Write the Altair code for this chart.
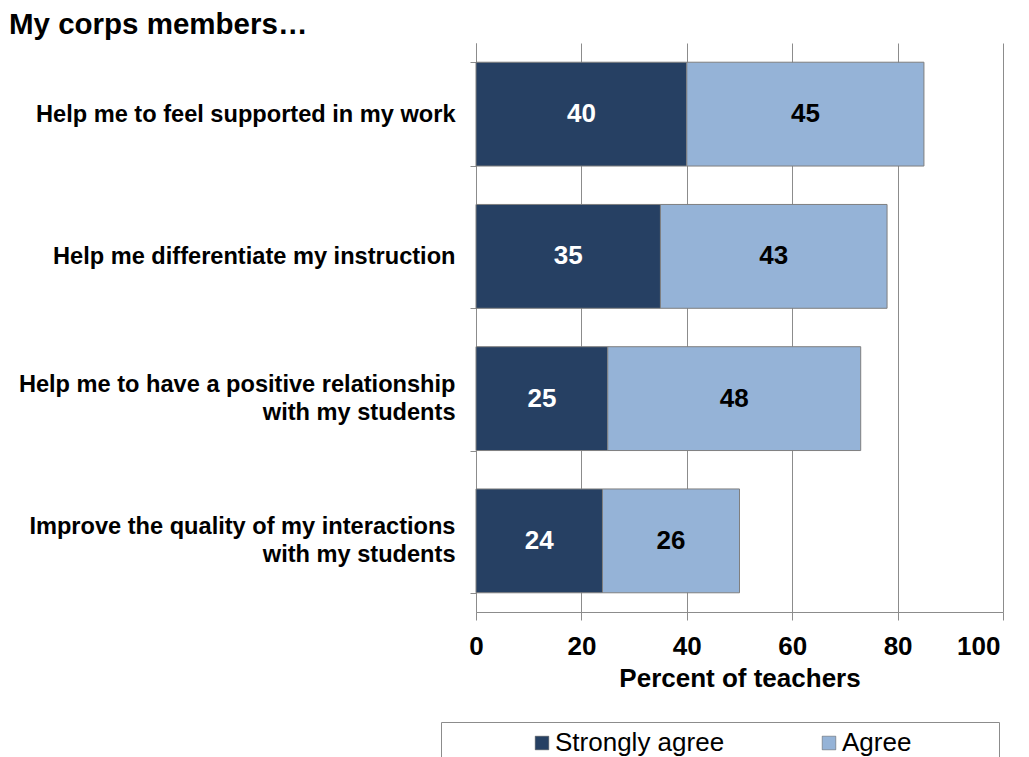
import altair as alt
import pandas as pd

categories = [
    "Help me to feel supported in my work",
    "Help me differentiate my instruction",
    "Help me to have a positive relationship|with my students",
    "Improve the quality of my interactions|with my students",
]
strongly_agree = [40, 35, 25, 24]
agree = [45, 43, 48, 26]
series = ["Strongly agree", "Agree"]
colors = ["#264063", "#95B3D7"]
x_ticks = [0, 20, 40, 60, 80, 100]

rows = []
for c, s, a in zip(categories, strongly_agree, agree):
    rows.append({"cat": c, "series": series[0], "order": 0, "value": s})
    rows.append({"cat": c, "series": series[1], "order": 1, "value": a})
df = pd.DataFrame(rows)

FONT = "Liberation Sans"
GRID = "#8C8C8C"
PAD = "\u00a0" * 11 + "\u200b"

base = alt.Chart(df).transform_stack(
    stack="value", groupby=["cat"], as_=["x0", "x1"],
    sort=[alt.SortField("order", order="ascending")],
).transform_calculate(mid="(datum.x0 + datum.x1) / 2")

y_enc = alt.Y(
    "cat:N", sort=categories,
    scale=alt.Scale(paddingInner=0.27, paddingOuter=0.135),
    axis=alt.Axis(
        title=None, labelExpr="split(datum.label, '|')",
        labelFont=FONT, labelFontSize=23.6, labelFontWeight="bold", labelColor="#000",
        labelLineHeight=28, labelPadding=15, labelLimit=600,
        labelOffset={"expr": "indexof(datum.label, '|') >= 0 ? -14 : 0"},
        tickBand="extent", tickSize=6, tickColor=GRID, domainColor=GRID,
        grid=False,
    ),
)

bars = base.mark_bar(stroke="#7F7F7F", strokeWidth=1).encode(
    x=alt.X(
        "x0:Q", scale=alt.Scale(domain=[0, 100], nice=False),
        axis=alt.Axis(
            values=x_ticks, title="Percent of teachers",
            titleFont=FONT, titleFontSize=26, titleFontWeight="bold", titleColor="#000",
            titlePadding=6,
            labelFont=FONT, labelFontSize=26, labelFontWeight="bold", labelColor="#000",
            labelPadding=13, tickSize=8, tickColor=GRID, domainColor=GRID,
            labelAlign={"expr": "datum.value == 100 ? 'right' : 'center'"},
            labelOffset={"expr": "datum.value == 100 ? -3 : 0"},
            labelFlush=False,
            grid=True, gridColor=GRID, gridOpacity=1,
        ),
    ),
    x2="x1:Q",
    y=y_enc,
    color=alt.Color(
        "series:N", sort=series,
        scale=alt.Scale(domain=series, range=colors),
        legend=alt.Legend(
            title=None, orient="none", legendX=-35, legendY=679,
            direction="horizontal", symbolType="square", symbolSize=185,
            symbolStrokeColor="#555", symbolStrokeWidth=0.5,
            labelFont=FONT, labelFontSize=26, labelColor="#000",
            labelExpr="datum.label == 'Agree' ? datum.label + '" + PAD + "' : datum.label",
            labelOffset=0, columnPadding=11, gridAlign="each",
            padding=8, strokeColor="#8C8C8C", symbolOffset=80,
            labelLimit=600,
        ),
    ),
    order=alt.Order("order:Q"),
)

labels = base.mark_text(
    font=FONT, fontSize=26, fontWeight="bold", baseline="middle", align="center",
).encode(
    x="mid:Q",
    y=alt.Y("cat:N", sort=categories),
    text=alt.Text("value:Q"),
    color=alt.condition(alt.datum.series == "Strongly agree", alt.value("#FFFFFF"), alt.value("#000000")),
)

chart = alt.layer(bars, labels).properties(
    width=527, height=569,
    autosize=alt.AutoSizeParams(type="none"),
    padding={"left": 468, "top": 35, "right": 18, "bottom": 145},
    title=alt.TitleParams(
        "My corps members…", anchor="start", frame="group", dx=-467, offset=4, dy=13,
        font=FONT, fontSize=29.5, fontWeight="bold", color="#000",
    ),
).configure_view(stroke=None)

chart.save("out.html", embed_options={"renderer": "svg", "actions": False})
